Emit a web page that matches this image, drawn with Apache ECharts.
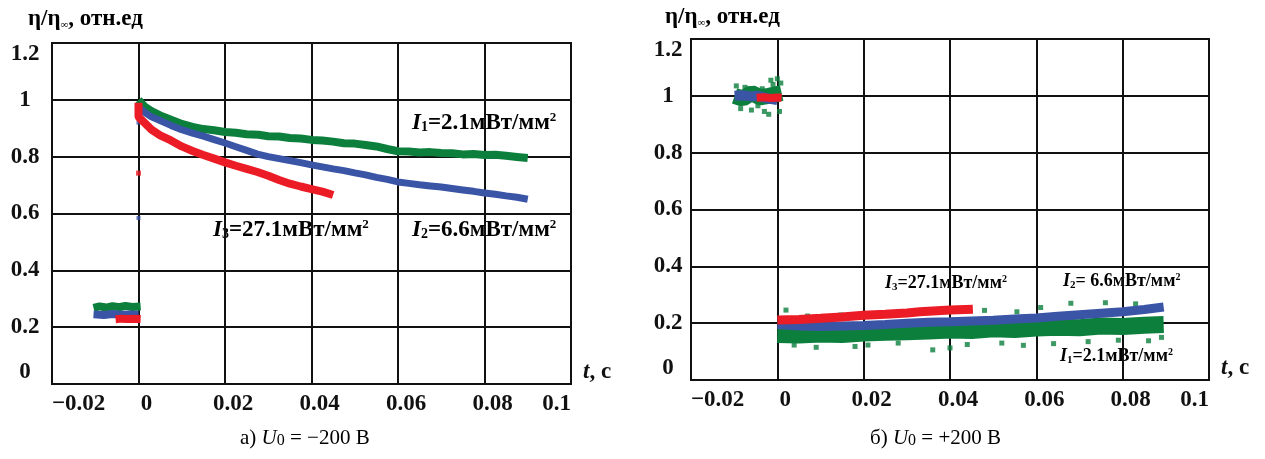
<!DOCTYPE html>
<html><head><meta charset="utf-8">
<script src="https://cdn.jsdelivr.net/npm/echarts@6/dist/echarts.min.js"></script>
<style>html,body{margin:0;padding:0;background:#fff}#c{width:1265px;height:459px}</style>
</head><body><div id="c"></div>
<script>
// ---------- axis ticks ----------
const xTicks = [-0.02, 0, 0.02, 0.04, 0.06, 0.08, 0.1];
const yTicks = [0, 0.2, 0.4, 0.6, 0.8, 1, 1.2];
const yAxisTitle = ['η/η', '∞', ', отн.ед'];
const xAxisTitle = ['t', ', c'];
const captions = [['а) ', 'U', '0', ' = −200 В'], ['б) ', 'U', '0', ' = +200 В']];
const labelsLeft = [['1', '=2.1мВт/мм'], ['2', '=6.6мВт/мм'], ['3', '=27.1мВт/мм']];
const labelsRight = [['3', '=27.1мВт/мм'], ['2', '= 6.6мВт/мм'], ['1', '=2.1мВт/мм']];

// ---------- (а) U0 = -200 V ----------
const aGreenPre = [[-0.0104,0.268],[-0.009,0.273],[-0.0075,0.269],[-0.006,0.274],[-0.0045,0.270],[-0.003,0.275],[-0.0015,0.271],[0.0005,0.273]];
const aBluePre  = [[-0.0104,0.245],[-0.008,0.243],[-0.006,0.246],[-0.004,0.244],[-0.002,0.245],[0.0,0.244]];
const aRedPre   = [[-0.0053,0.228],[-0.004,0.230],[-0.0025,0.229],[-0.001,0.230],[0.0005,0.229]];
const aGreenPost = [[0,1.0],[0.0015,0.975],[0.003,0.96],[0.005,0.945],[0.0075,0.93],[0.01,0.915],[0.0125,0.905],[0.015,0.897],[0.0175,0.893],[0.02,0.887],[0.0225,0.884],[0.025,0.879],[0.0278,0.877],[0.03,0.872],[0.0325,0.871],[0.035,0.866],[0.0375,0.864],[0.04,0.859],[0.0425,0.857],[0.045,0.853],[0.0475,0.847],[0.05,0.846],[0.0525,0.841],[0.055,0.836],[0.0575,0.827],[0.06,0.819],[0.0625,0.818],[0.065,0.815],[0.0675,0.816],[0.07,0.813],[0.0725,0.812],[0.075,0.808],[0.0775,0.809],[0.08,0.806],[0.0825,0.807],[0.085,0.803],[0.0875,0.799],[0.09,0.795]];
const aBluePost = [[0,0.975],[0.0015,0.955],[0.003,0.94],[0.005,0.927],[0.0075,0.91],[0.01,0.895],[0.0125,0.883],[0.015,0.872],[0.0175,0.86],[0.02,0.848],[0.0225,0.835],[0.025,0.822],[0.0275,0.809],[0.03,0.8],[0.0325,0.793],[0.035,0.786],[0.0375,0.779],[0.04,0.771],[0.0425,0.764],[0.045,0.757],[0.0475,0.751],[0.05,0.743],[0.0525,0.736],[0.055,0.727],[0.0575,0.72],[0.06,0.711],[0.0625,0.706],[0.065,0.701],[0.0675,0.697],[0.07,0.693],[0.0725,0.688],[0.075,0.683],[0.0775,0.678],[0.08,0.672],[0.0825,0.668],[0.085,0.662],[0.0875,0.657],[0.09,0.65]];
const aRedPost = [[0,0.99],[0,0.94],[0.001,0.925],[0.002,0.91],[0.003,0.895],[0.005,0.875],[0.0075,0.857],[0.01,0.836],[0.0125,0.82],[0.015,0.806],[0.0175,0.793],[0.02,0.78],[0.0225,0.768],[0.025,0.757],[0.0275,0.746],[0.03,0.733],[0.0325,0.718],[0.035,0.705],[0.0375,0.695],[0.04,0.686],[0.0425,0.677],[0.045,0.665]];
const aRedStray = [[0,0.742]];
const aBlueStray = [[0,0.584],[0,0.92]];

// ---------- (б) U0 = +200 V ----------
const bGreenPre = [[-0.0099,1.0],[-0.008,0.99],[-0.006,1.01],[-0.004,0.995],[-0.002,1.0],[0.001,1.01]];
const bGreenPreDots = [[-0.0095,1.035],[-0.0085,0.955],[-0.0075,1.03],[-0.006,0.95],[-0.0045,0.965],[-0.003,0.945],[-0.002,0.935],[-0.001,1.04],[-0.0015,1.055],[0.0,1.06],[0.0005,0.945],[-0.0035,1.025],[0.0008,1.045]];
const bBluePre = [[-0.0099,1.0],[-0.008,1.002],[-0.006,0.998],[-0.0046,1.0],[-0.002,0.99],[0.0,0.985]];
const bRedPre  = [[-0.0048,0.993],[-0.003,0.995],[-0.0015,0.992],[0.0,0.994],[0.001,0.993]];
const bGreenPost = [[0,0.16],[0.005,0.158],[0.01,0.162],[0.015,0.16],[0.02,0.165],[0.025,0.168],[0.03,0.17],[0.035,0.172],[0.04,0.176],[0.045,0.174],[0.05,0.18],[0.055,0.178],[0.06,0.183],[0.065,0.186],[0.07,0.184],[0.075,0.19],[0.08,0.188],[0.085,0.193],[0.0895,0.195]];
const bGreenDots = [[0.002,0.246],[0.0039,0.123],[0.007,0.225],[0.009,0.115],[0.0147,0.229],[0.018,0.118],[0.021,0.123],[0.0245,0.236],[0.028,0.13],[0.031,0.232],[0.036,0.106],[0.04,0.113],[0.044,0.125],[0.048,0.245],[0.052,0.13],[0.057,0.122],[0.061,0.255],[0.064,0.128],[0.068,0.27],[0.072,0.135],[0.076,0.272],[0.079,0.14],[0.083,0.268],[0.086,0.138],[0.089,0.15],[0.0555,0.24]];
const bBluePost = [[0,0.195],[0.005,0.19],[0.01,0.188],[0.015,0.19],[0.02,0.192],[0.025,0.195],[0.03,0.2],[0.035,0.203],[0.04,0.205],[0.045,0.208],[0.05,0.21],[0.055,0.215],[0.06,0.218],[0.065,0.224],[0.07,0.23],[0.075,0.235],[0.08,0.24],[0.085,0.248],[0.0895,0.257]];
const bRedPost = [[0,0.211],[0.005,0.213],[0.01,0.217],[0.015,0.222],[0.02,0.228],[0.025,0.231],[0.03,0.236],[0.033,0.24],[0.036,0.243],[0.04,0.246],[0.0453,0.249]];

const GREEN = '#0d7f3c', BLUE = '#3a54a6', RED = '#ec1c26';
const SERIF = 'Liberation Serif';

function fmtX(v) {
  const r = Math.round(v * 100) / 100;
  return (r < 0 ? '−' + String(-r) : String(r));
}
function xLabelRich(v) {
  const s = fmtX(v);
  if (Math.abs(v - xTicks[0]) < 1e-9) return '{m|' + s + '}';
  if (Math.abs(v - xTicks[xTicks.length - 1]) < 1e-9) return '{m|' + s + '}';
  return '{n|' + s + '}';
}
const tickFont = {fontFamily: SERIF, fontWeight: 'bold', fontSize: 23, color: '#111'};

function makeX(gi) {
  return {
    type: 'value', gridIndex: gi, min: xTicks[0], max: xTicks[xTicks.length - 1], interval: 0.02,
    axisLine: {show: true, lineStyle: {color: '#111', width: 2}},
    axisTick: {show: false},
    splitLine: {show: true, lineStyle: {color: '#111', width: 2}},
    axisLabel: {
      margin: 9, formatter: xLabelRich, alignMinLabel: 'left', alignMaxLabel: 'right',
      ...tickFont,
      rich: {m: {...tickFont}, n: {...tickFont, padding: [0, 0, 0, 16]}}
    },
    name: '{i|' + xAxisTitle[0] + '}{n|' + xAxisTitle[1] + '}',
    nameLocation: 'end', nameGap: 12,
    nameTextStyle: {
      verticalAlign: 'bottom', ...tickFont,
      rich: {i: {...tickFont, fontStyle: 'italic'}, n: {...tickFont}}
    }
  };
}
function makeY(gi, margin) {
  return {
    type: 'value', gridIndex: gi, min: yTicks[0], max: yTicks[yTicks.length - 1], interval: 0.2,
    axisLine: {show: true, lineStyle: {color: '#111', width: 2}},
    axisTick: {show: false},
    splitLine: {show: true, lineStyle: {color: '#111', width: 2}},
    axisLabel: {
      margin: margin, align: 'center', ...tickFont,
      verticalAlignMaxLabel: 'top', verticalAlignMinLabel: 'bottom',
      formatter: v => String(Math.round(v * 10) / 10)
    }
  };
}
function band(data, color, width, xi, z) {
  return {type: 'line', xAxisIndex: xi, yAxisIndex: xi, data: data, showSymbol: false, symbol: 'none',
    lineStyle: {color: color, width: width, join: 'bevel'}, z: z, silent: true};
}
function dots(data, color, size, xi, z) {
  return {type: 'scatter', xAxisIndex: xi, yAxisIndex: xi, data: data, symbol: 'rect', symbolSize: size,
    itemStyle: {color: color}, z: z, silent: true};
}

const annFont = {fontFamily: SERIF, fontWeight: 'bold', color: '#111'};
function annText(x, y, parts, fs) {
  return {
    type: 'text', left: x, top: y - fs * 0.6,
    style: {
      text: '{i|I}{s|' + parts[0] + '}{t|' + parts[1] + '}{p|2}',
      rich: {
        i: {...annFont, fontSize: fs, fontStyle: 'italic'},
        s: {...annFont, fontSize: Math.round(fs * 0.62), verticalAlign: 'bottom'},
        t: {...annFont, fontSize: fs},
        p: {...annFont, fontSize: Math.round(fs * 0.55), verticalAlign: 'top'}
      }
    }
  };
}
function yTitle(x, y) {
  return {
    type: 'text', left: x, top: y - 12,
    style: {
      text: '{a|' + yAxisTitle[0] + '}{b|' + yAxisTitle[1] + '}{a|' + yAxisTitle[2] + '}',
      rich: {
        a: {fontFamily: SERIF, fontWeight: 'bold', fontSize: 23, color: '#111'},
        b: {fontFamily: SERIF, fontSize: 11, color: '#aaa', verticalAlign: 'bottom'}
      }
    }
  };
}
const capFont = {fontFamily: SERIF, fontSize: 21, color: '#222'};
function caption(cx, y, parts) {
  return {
    type: 'text', left: cx - 70, top: y - 12,
    style: {
      text: '{a|' + parts[0] + '}{u|' + parts[1] + '}{s|' + parts[2] + '}{a|' + parts[3] + '}',
      rich: {
        a: {...capFont}, u: {...capFont, fontStyle: 'italic'},
        s: {...capFont, fontSize: 16, verticalAlign: 'bottom'}
      }
    }
  };
}

const chart = echarts.init(document.getElementById('c'), null, {renderer: 'canvas'});
chart.setOption({
  animation: false,
  backgroundColor: '#fff',
  grid: [
    {left: 52, top: 43, width: 519, height: 341, show: true, borderColor: '#111', borderWidth: 2, backgroundColor: 'transparent'},
    {left: 691, top: 39, width: 518, height: 341, show: true, borderColor: '#111', borderWidth: 2, backgroundColor: 'transparent'}
  ],
  xAxis: [makeX(0), makeX(1)],
  yAxis: [makeY(0, 27), makeY(1, 23)],
  series: [
    band(aGreenPre, GREEN, 8, 0, 2), band(aGreenPost, GREEN, 8, 0, 2),
    band(aBluePre, BLUE, 8, 0, 3), band(aBluePost, BLUE, 7, 0, 3), dots(aBlueStray, BLUE, 4, 0, 3),
    band(aRedPre, RED, 8, 0, 4), band(aRedPost, RED, 8, 0, 4), dots(aRedStray, RED, 5, 0, 4),
    band(bGreenPre, GREEN, 16, 1, 2), dots(bGreenPreDots, GREEN, 5, 1, 2),
    band(bGreenPost, GREEN, 17, 1, 2), dots(bGreenDots, GREEN, 5, 1, 2),
    band(bBluePre, BLUE, 10, 1, 3), band(bBluePost, BLUE, 9, 1, 3),
    band(bRedPre, RED, 8, 1, 4), band(bRedPost, RED, 9, 1, 4)
  ],
  graphic: [
    yTitle(28, 20), yTitle(665, 18),
    annText(412, 125, labelsLeft[0], 23), annText(412, 232, labelsLeft[1], 23), annText(213, 232, labelsLeft[2], 23),
    annText(885, 285, labelsRight[0], 18), annText(1063, 283, labelsRight[1], 18), annText(1060, 358, labelsRight[2], 18),
    caption(310, 440, captions[0]), caption(940, 440, captions[1])
  ]
});
</script></body></html>
